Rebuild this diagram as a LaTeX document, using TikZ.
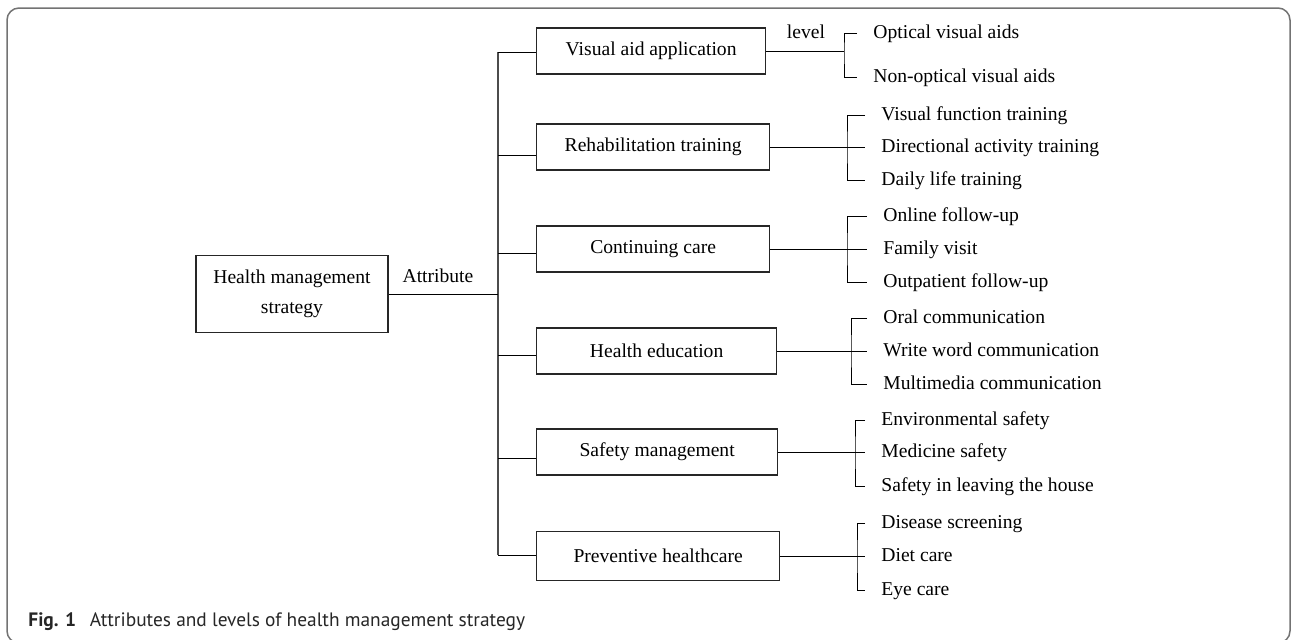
\documentclass[tikz,border=0pt]{standalone}
\usepackage{fontspec}
\setmainfont{Liberation Serif}
\newfontfamily\capfont{PT Sans}
\begin{document}
\begin{tikzpicture}[x=0.5pt,y=-0.5pt,
  every node/.style={font=\fontsize{9.8}{15}\selectfont},
  abox/.style={draw=black!85, line width=0.65pt, minimum height=23pt, inner sep=0pt, anchor=west},
  lvl/.style={inner sep=0pt, anchor=west, text height=7pt, text depth=2pt},
  conn/.style={draw=black, line width=0.5pt},
  trunkline/.style={draw=black!70, line width=0.7pt},
  frame/.style={draw=black!55, line width=0.75pt, rounded corners=6pt}]
\useasboundingbox (0,0) rectangle (1292,639);
\draw[frame] (7,643) rectangle (1290,8);

% root
\node[abox, anchor=center, minimum width=96pt, minimum height=38.5pt, align=center] (hms) at (292,294) {Health management\\strategy};
\node[anchor=base] (attr) at (438,282) {Attribute};

% attributes
\node[abox, minimum width=114.5pt] (va) at (536,51) {Visual aid application};
\node[abox, minimum width=116.5pt] (rt) at (536,147) {Rehabilitation training};
\node[abox, minimum width=116.5pt] (cc) at (536,249) {Continuing care};
\node[abox, minimum width=120pt] (he) at (536,351) {Health education};
\node[abox, minimum width=120.5pt] (sm) at (536,452) {Safety management};
\node[abox, minimum width=121.5pt, minimum height=24.5pt] (ph) at (536,556) {Preventive healthcare};

% trunk
\coordinate (b1) at (498,52);
\coordinate (b2) at (498,155);
\coordinate (b3) at (498,253);
\coordinate (b4) at (498,355);
\coordinate (b5) at (498,458);
\coordinate (b6) at (498,555);
\draw[trunkline] (b1) -- (b6);
\draw[conn] (hms.east) -- (hms.east -| b1);
\draw[conn] (b1) -- (b1 -| va.west);
\draw[conn] (b2) -- (b2 -| rt.west);
\draw[conn] (b3) -- (b3 -| cc.west);
\draw[conn] (b4) -- (b4 -| he.west);
\draw[conn] (b5) -- (b5 -| sm.west);
\draw[conn] (b6) -- (b6 -| ph.west);

% levels
\node[anchor=base] (lv) at (806,38) {level};
\node[lvl] (v1) at (873,33) {Optical visual aids};
\node[lvl] (v2) at (873,77) {Non-optical visual aids};
\coordinate (vaB) at (844,51);
\draw[conn] (va.east) -- (vaB);
\draw[conn] ([xshift=-8pt]v1.west) -| (vaB) |- ([xshift=-8pt]v2.west);

\node[lvl] (r1) at (881,115) {Visual function training};
\node[lvl] (r2) at (881,147) {Directional activity training};
\node[lvl] (r3) at (881,180) {Daily life training};
\coordinate (rtB) at (847,147);
\draw[conn] (rt.east) -- ([xshift=-8pt]r2.west);
\draw[conn] ([xshift=-8pt]r1.west) -| (rtB) |- ([xshift=-8pt]r3.west);

\node[lvl] (c1) at (883,216) {Online follow-up};
\node[lvl] (c2) at (883,249) {Family visit};
\node[lvl] (c3) at (883,282) {Outpatient follow-up};
\coordinate (ccB) at (847,249);
\draw[conn] (cc.east) -- ([xshift=-8pt]c2.west);
\draw[conn] ([xshift=-8pt]c1.west) -| (ccB) |- ([xshift=-8pt]c3.west);

\node[lvl] (h1) at (883,318) {Oral communication};
\node[lvl] (h2) at (883,351) {Write word communication};
\node[lvl] (h3) at (883,384) {Multimedia communication};
\coordinate (heB) at (851,351);
\draw[conn] (he.east) -- ([xshift=-8pt]h2.west);
\draw[conn] ([xshift=-8pt]h1.west) -| (heB) |- ([xshift=-8pt]h3.west);

\node[lvl] (s1) at (881,420) {Environmental safety};
\node[lvl] (s2) at (881,452) {Medicine safety};
\node[lvl] (s3) at (881,486) {Safety in leaving the house};
\coordinate (smB) at (855,452);
\draw[conn] (sm.east) -- ([xshift=-8pt]s2.west);
\draw[conn] ([xshift=-8pt]s1.west) -| (smB) |- ([xshift=-8pt]s3.west);

\node[lvl] (p1) at (881,523) {Disease screening};
\node[lvl] (p2) at (881,556) {Diet care};
\node[lvl] (p3) at (881,590) {Eye care};
\coordinate (phB) at (857,556);
\draw[conn] (ph.east) -- ([xshift=-8pt]p2.west);
\draw[conn] ([xshift=-8pt]p1.west) -| (phB) |- ([xshift=-8pt]p3.west);

% caption
\node[anchor=base west, inner sep=0pt, text=black!85, font=\capfont\fontsize{9.7}{12}\selectfont] (cap) at (28,626) {\textbf{Fig. 1}\hspace{0.7em}Attributes and levels of health management strategy};
\end{tikzpicture}
\end{document}
